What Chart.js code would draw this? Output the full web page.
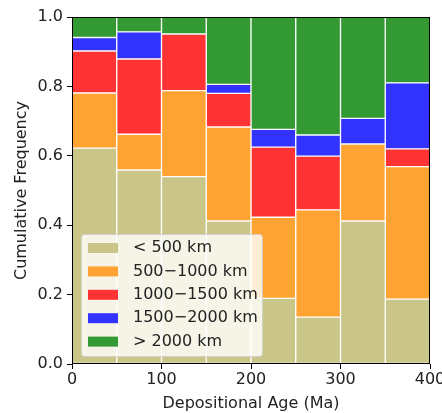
<!DOCTYPE html>
<html>
<head>
<meta charset="utf-8">
<script src="https://cdn.jsdelivr.net/npm/chart.js@4"></script>
<style>
  html, body { margin: 0; padding: 0; background: #fff; }
  #wrap { width: 442px; height: 413px; }
</style>
</head>
<body>
<div id="wrap"><canvas id="ageChart" width="442" height="413"></canvas></div>
<script>
// Age bins (Ma), 50 Myr wide
const ageBins = ['0-50', '50-100', '100-150', '150-200', '200-250', '250-300', '300-350', '350-400'];

// Fraction of grains in each distance class, per bin (stacked to 1)
const lt500       = [0.622, 0.559, 0.540, 0.412, 0.189, 0.135, 0.412, 0.187];
const d500to1000  = [0.159, 0.103, 0.248, 0.271, 0.234, 0.309, 0.222, 0.382];
const d1000to1500 = [0.121, 0.217, 0.163, 0.097, 0.202, 0.155, 0.000, 0.051];
const d1500to2000 = [0.039, 0.078, 0.000, 0.026, 0.051, 0.061, 0.074, 0.190];
const gt2000      = [0.059, 0.043, 0.049, 0.194, 0.324, 0.340, 0.292, 0.190];

const xTicks = [0, 100, 200, 300, 400];
const yTicks = [0, 0.2, 0.4, 0.6, 0.8, 1.0];

const font = { family: 'DejaVu Sans', size: 16 };
const ink = '#222';

function series(label, data, color) {
    return {
        label: label,
        data: data,
        backgroundColor: color,
        borderColor: 'rgba(255,255,255,0.85)',
        borderWidth: 1,
        borderSkipped: false,
        barPercentage: 1,
        categoryPercentage: 1
    };
}

// legend box in the lower left + the axes frame
const boxLegend = {
    id: 'boxLegend',
    afterDatasetsDraw(chart) {
        const ctx = chart.ctx;
        const ca = chart.chartArea;
        const x0 = ca.left + 9, y0 = ca.bottom - 130, w = 181, h = 122;
        ctx.save();
        ctx.fillStyle = 'rgba(255,255,255,0.8)';
        ctx.strokeStyle = 'rgba(204,204,204,0.8)';
        ctx.lineWidth = 1;
        ctx.beginPath();
        ctx.roundRect(x0 + 0.5, y0 + 0.5, w, h, 3);
        ctx.fill();
        ctx.stroke();
        ctx.font = '16px "DejaVu Sans"';
        ctx.textBaseline = 'middle';
        chart.data.datasets.forEach((ds, i) => {
            const cy = y0 + 14 + i * 23.4;
            ctx.fillStyle = ds.backgroundColor;
            ctx.fillRect(x0 + 7, cy - 5, 30, 10);
            ctx.fillStyle = ink;
            ctx.fillText(ds.label, x0 + 52, cy);
        });
        // frame
        ctx.strokeStyle = '#000';
        ctx.lineWidth = 1;
        ctx.strokeRect(ca.left + 0.5, ca.top + 0.5, ca.right - ca.left - 1, ca.bottom - ca.top - 1);
        ctx.restore();
    }
};

new Chart(document.getElementById('ageChart'), {
    type: 'bar',
    data: {
        labels: ageBins,
        datasets: [
            series('< 500 km', lt500, '#cac589'),
            series('500\u22121000 km', d500to1000, '#ffa333'),
            series('1000\u22121500 km', d1000to1500, '#ff3333'),
            series('1500\u22122000 km', d1500to2000, '#3333ff'),
            series('> 2000 km', gt2000, '#339933')
        ]
    },
    options: {
        responsive: false,
        animation: false,
        layout: { padding: { top: 17, right: 12, left: 0, bottom: 0 } },
        scales: {
            x: {
                stacked: true,
                display: false,
                offset: true
            },
            xAge: {
                type: 'linear',
                position: 'bottom',
                min: 0,
                max: 400,
                offset: false,
                afterBuildTicks: axis => { axis.ticks = xTicks.map(v => ({ value: v })); },
                afterFit: axis => { axis.height = 49; axis.paddingRight = 0; axis.paddingLeft = 0; },
                grid: { drawOnChartArea: false, offset: false, tickLength: 5, tickColor: '#000' },
                border: { display: false },
                ticks: { color: ink, font: font, padding: 1, maxRotation: 0 },
                title: { display: true, text: 'Depositional Age (Ma)', color: ink, font: font, padding: { top: 0, bottom: 0 } }
            },
            y: {
                stacked: true,
                min: 0,
                max: 1,
                afterBuildTicks: axis => { axis.ticks = yTicks.map(v => ({ value: v })); },
                afterFit: axis => { axis.width = 72; axis.paddingTop = 0; axis.paddingBottom = 0; },
                grid: { drawOnChartArea: false, tickLength: 5, tickColor: '#000' },
                border: { display: false },
                ticks: { color: ink, font: font, padding: 4, callback: v => v.toFixed(1) },
                title: { display: true, text: 'Cumulative Frequency', color: ink, font: font, padding: { top: 12, bottom: 0 } }
            }
        },
        plugins: {
            legend: { display: false },
            tooltip: { enabled: false }
        }
    },
    plugins: [boxLegend]
});
</script>
</body>
</html>
